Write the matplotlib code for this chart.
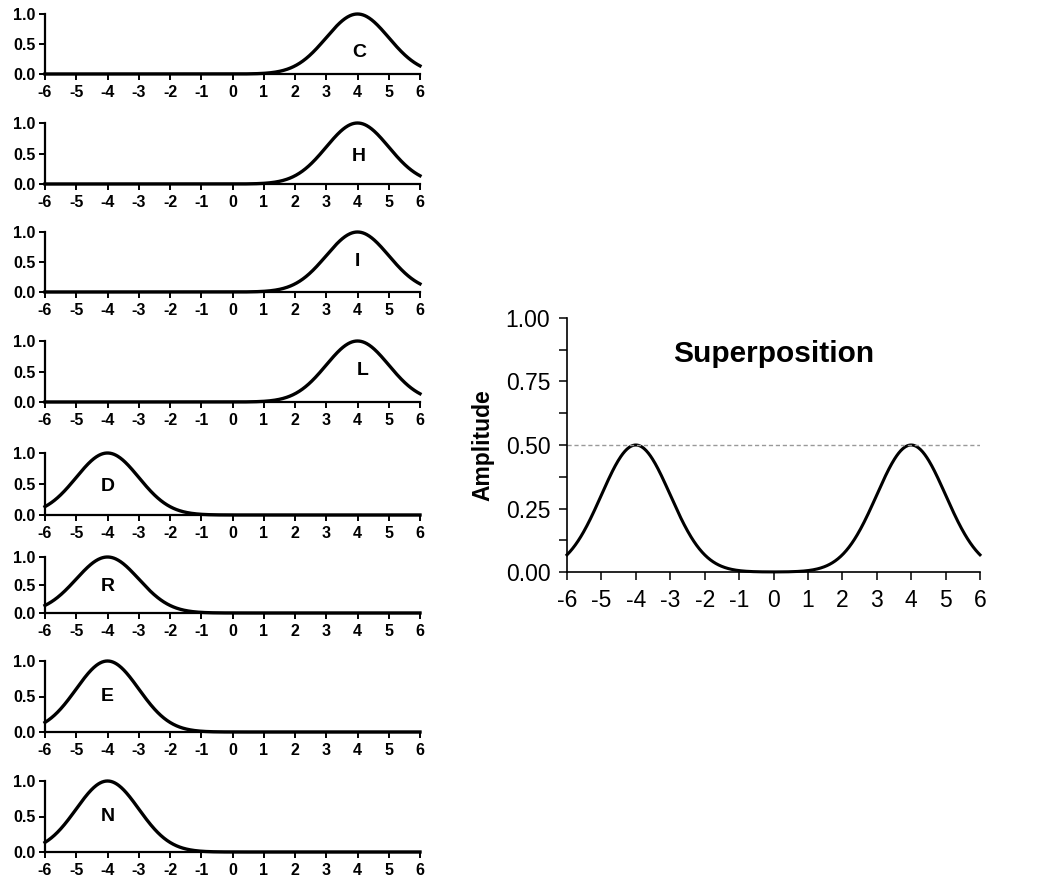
import numpy as np
import matplotlib
matplotlib.use("Agg")
import matplotlib.pyplot as plt
from matplotlib.ticker import MultipleLocator

plt.rcParams['font.family'] = ['Liberation Sans', 'DejaVu Sans']

# ---- data ----
letters = ["C", "H", "I", "L", "D", "R", "E", "N"]
centers = [4, 4, 4, 4, -4, -4, -4, -4]
amplitudes = [1.0, 1.0, 1.0, 1.0, 1.0, 1.0, 1.0, 1.0]
sigma = 1.0
label_x = [4.05, 4.05, 4.0, 4.15, -3.98, -4.0, -4.0, -4.0]
label_y = [0.36, 0.45, 0.5, 0.52, 0.46, 0.47, 0.5, 0.5]
x_ticks = [-6, -5, -4, -3, -2, -1, 0, 1, 2, 3, 4, 5, 6]
y_ticks_small = [0.0, 0.5, 1.0]
y_ticks_big = [0.00, 0.25, 0.50, 0.75, 1.00]
super_title = "Superposition"
super_ylabel = "Amplitude"
ref_level = 0.5

W, H = 1062, 884
fig = plt.figure(figsize=(W / 100, H / 100), dpi=100)

x = np.linspace(-6, 6, 600)

def gauss(xv, c, a):
    return a * np.exp(-0.5 * ((xv - c) / sigma) ** 2)

# pixel positions of the small panels (top of y=1, bottom y=0)
rows = [(14, 74), (123, 184), (232, 292), (341, 402),
        (453, 515), (557, 613), (661, 732), (781, 852)]
left_px, right_px = 45, 420

for i, (top, bot) in enumerate(rows):
    ax = fig.add_axes([left_px / W, 1 - bot / H, (right_px - left_px) / W, (bot - top) / H])
    ax.plot(x, gauss(x, centers[i], amplitudes[i]), color='black', lw=2.4, clip_on=False)
    ax.set_xlim(-6, 6)
    ax.set_ylim(0, 1.0)
    ax.set_xticks(x_ticks)
    ax.set_xticklabels([str(t) for t in x_ticks])
    ax.set_yticks(y_ticks_small)
    ax.set_yticklabels([f"{t:.1f}" for t in y_ticks_small])
    for s in ['top', 'right']:
        ax.spines[s].set_visible(False)
    for s in ['left', 'bottom']:
        ax.spines[s].set_linewidth(1.6)
    ax.tick_params(axis='both', direction='out', length=4, width=1.4,
                   labelsize=11.5, pad=3)
    ax.tick_params(axis='x', pad=4)
    for lab in ax.get_xticklabels() + ax.get_yticklabels():
        lab.set_fontweight('bold')
    ax.text(label_x[i], label_y[i], letters[i], ha='center', va='center',
            fontsize=14, fontweight='bold')
    ax.patch.set_alpha(0)

# superposition panel
sx0, sx1, sy_top, sy_bot = 567, 980, 318, 572
ax2 = fig.add_axes([sx0 / W, 1 - sy_bot / H, (sx1 - sx0) / W, (sy_bot - sy_top) / H])
total = np.zeros_like(x)
for c, a in zip(centers, amplitudes):
    total += gauss(x, c, a)
total /= len(centers)
ax2.plot(x, total, color='black', lw=2.2, clip_on=False)
ax2.axhline(ref_level, color='#999999', lw=1.0, ls=(0, (3, 2)))
ax2.set_xlim(-6, 6)
ax2.set_ylim(0, 1.0)
ax2.set_xticks(x_ticks)
ax2.set_xticklabels([str(t) for t in x_ticks])
ax2.set_yticks(y_ticks_big)
ax2.set_yticklabels([f"{t:.2f}" for t in y_ticks_big])
ax2.yaxis.set_minor_locator(MultipleLocator(0.125))
for s in ['top', 'right']:
    ax2.spines[s].set_visible(False)
for s in ['left', 'bottom']:
    ax2.spines[s].set_linewidth(1.2)
ax2.tick_params(axis='both', which='both', direction='out', length=6, width=1.1,
                labelsize=16.5)
ax2.tick_params(axis='x', pad=6)
ax2.tick_params(axis='y', pad=6)
ax2.set_ylabel(super_ylabel, fontsize=16.5, fontweight='bold', labelpad=8)
ax2.text(0.5, 0.86, super_title, transform=ax2.transAxes, ha='center', va='center',
         fontsize=21.5, fontweight='bold')
ax2.patch.set_alpha(0)

fig.savefig("out.png", dpi=100, facecolor='white')
